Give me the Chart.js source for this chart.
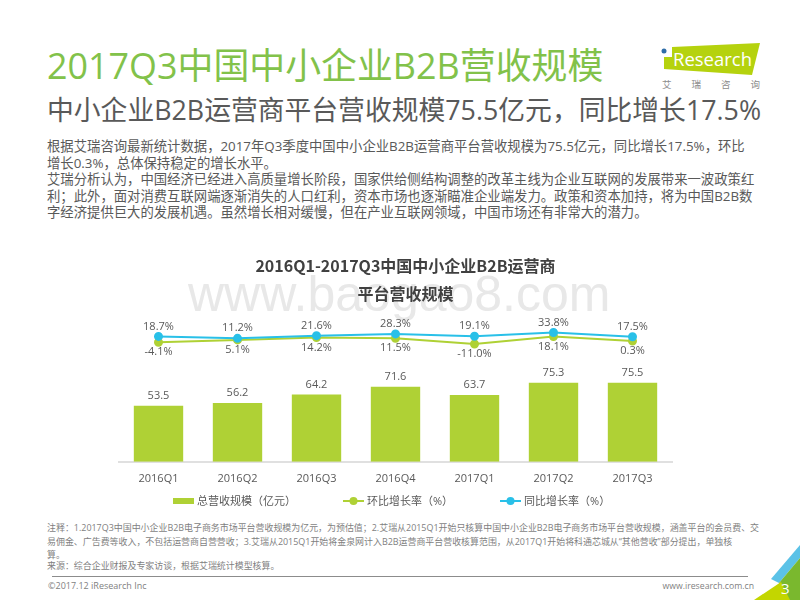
<!DOCTYPE html>
<html>
<head>
<meta charset="utf-8">
<title>2017Q3中国中小企业B2B营收规模</title>
<script src="https://cdn.jsdelivr.net/npm/chart.js@4"></script>
<style>
html, body { margin: 0; padding: 0; background: #fff; }
body { width: 800px; height: 600px; position: relative; overflow: hidden; font-family: "Open Sans", "Noto Sans CJK SC", sans-serif; color: #595959; }
.t { position: absolute; white-space: nowrap; line-height: 1; }
#mainTitle { left: 47px; top: 48px; font-size: 35.9px; color: #82c24a; }
#subTitle { left: 47px; top: 97px; font-size: 26.8px; color: #595959; }
.body { left: 47px; font-size: 13.35px; color: #595959; }
.note { left: 47px; font-size: 8.95px; color: #7f7f7f; }
#rule { position: absolute; left: 52px; top: 576px; width: 696px; height: 1px; background: #8c8c8c; }
#wrap { position: absolute; left: 70px; top: 250px; width: 640px; height: 245px; }
#deco { position: absolute; left: 0; top: 0; }
#legend { position: absolute; left: 173px; top: 493px; display: flex; font-size: 11px; line-height: 16px; color: #595959; white-space: nowrap; }
#legend span.item { display: flex; align-items: center; margin-right: 47px; }
#legend canvas { margin-right: 3px; }
</style>
</head>
<body>
<svg id="deco" width="800" height="600">
	<text x="188" y="311" font-size="50" fill="#e8e8e8" font-family="Liberation Sans">www.baogao8.com</text>
	<!-- logo -->
	<polygon points="672,47 760,43 752,75 664,69 664,57 672,57" fill="#b5d20e"/>
	<circle cx="664" cy="51" r="2.5" fill="#2f6da8"/>
	<text x="673" y="66" font-size="18" fill="#fff" font-family="Open Sans" textLength="79" lengthAdjust="spacingAndGlyphs">Research</text>
	<text x="662" y="88" font-size="9.5" fill="#8c8c8c" letter-spacing="20" font-family="Noto Sans CJK SC">艾瑞咨询</text>
	<!-- corner -->
	<polygon points="771,579 800,545 800,558 779,583" fill="#5bc2e7"/>
	<polygon points="779,583 800,558 800,600 783,600" fill="#7ab82e"/>
	<polygon points="754,600 781,582 790,600" fill="#c3d600"/>
	<text x="781" y="594" font-size="15" fill="#fff" font-family="Open Sans">3</text>
</svg>
<div class="t" id="mainTitle">2017Q3中国中小企业B2B营收规模</div>
<div class="t" id="subTitle">中小企业B2B运营商平台营收规模75.5亿元，同比增长17.5%</div>
<div class="t body" style="top:140px">根据艾瑞咨询最新统计数据，2017年Q3季度中国中小企业B2B运营商平台营收规模为75.5亿元，同比增长17.5%，环比</div>
<div class="t body" style="top:157px">增长0.3%，总体保持稳定的增长水平。</div>
<div class="t body" style="top:173px">艾瑞分析认为，中国经济已经进入高质量增长阶段，国家供给侧结构调整的改革主线为企业互联网的发展带来一波政策红</div>
<div class="t body" style="top:190px">利；此外，面对消费互联网端逐渐消失的人口红利，资本市场也逐渐瞄准企业端发力。政策和资本加持，将为中国B2B数</div>
<div class="t body" style="top:206px">字经济提供巨大的发展机遇。虽然增长相对缓慢，但在产业互联网领域，中国市场还有非常大的潜力。</div>

<div id="wrap"><canvas id="chart" width="640" height="245"></canvas></div>
<div id="legend"></div>

<div class="t note" style="top:524px">注释：1.2017Q3中国中小企业B2B电子商务市场平台营收规模为亿元，为预估值；2.艾瑞从2015Q1开始只核算中国中小企业B2B电子商务市场平台营收规模，涵盖平台的会员费、交</div>
<div class="t note" style="top:538px">易佣金、广告费等收入，不包括运营商自营营收；3.艾瑞从2015Q1开始将金泉网计入B2B运营商平台营收核算范围，从2017Q1开始将科通芯城从“其他营收”部分提出，单独核</div>
<div class="t note" style="top:551px">算。</div>
<div class="t note" style="top:562px">来源：综合企业财报及专家访谈，根据艾瑞统计模型核算。</div>
<div id="rule"></div>
<div class="t" style="left:48px;top:581px;font-size:9px;color:#7f7f7f">©2017.12 iResearch Inc</div>
<div class="t" style="right:46px;top:582px;font-size:8.7px;color:#7f7f7f">www.iresearch.com.cn</div>

<script>
// Chart data
const quarters = ['2016Q1', '2016Q2', '2016Q3', '2016Q4', '2017Q1', '2017Q2', '2017Q3'];
const revenue = [53.5, 56.2, 64.2, 71.6, 63.7, 75.3, 75.5];
const qoqRate = [-4.1, 5.1, 14.2, 11.5, -11.0, 18.1, 0.3];
const yoyRate = [18.7, 11.2, 21.6, 28.3, 19.1, 33.8, 17.5];

const GREEN = '#afd135';
const BLUE = '#29c0e8';
const TEXT = '#595959';
const FONT = '"Open Sans", "Noto Sans CJK SC"';

// Value labels above or below each mark
const valueLabels = {
	id: 'valueLabels',
	afterDatasetsDraw(chart) {
		const ctx = chart.ctx;
		ctx.save();
		ctx.font = '11px ' + FONT;
		ctx.fillStyle = TEXT;
		ctx.textAlign = 'center';
		ctx.textBaseline = 'middle';
		chart.data.datasets.forEach((ds, i) => {
			chart.getDatasetMeta(i).data.forEach((el, j) => {
				const v = ds.data[j];
				const text = ds.type === 'bar' ? v.toFixed(1) : v.toFixed(1) + '%';
				ctx.fillText(text, el.x, el.y + ds.labelGap);
			});
		});
		ctx.restore();
	}
};

// Title sits a bit right of the plot centre in the original
const titleShift = {
	id: 'titleShift',
	afterLayout(chart) {
		chart.titleBlock.left += 10;
		chart.titleBlock.right += 10;
	}
};

const chart = new Chart(document.getElementById('chart'), {
	data: {
		labels: quarters,
		datasets: [
			{
				type: 'line',
				label: '同比增长率（%）',
				data: yoyRate,
				yAxisID: 'yRate',
				borderColor: BLUE,
				backgroundColor: BLUE,
				borderWidth: 2,
				pointRadius: 3.5,
				tension: 0,
				order: 1,
				labelGap: -10
			},
			{
				type: 'line',
				label: '环比增长率（%）',
				data: qoqRate,
				yAxisID: 'yRate',
				borderColor: GREEN,
				backgroundColor: GREEN,
				borderWidth: 2,
				pointRadius: 3.5,
				tension: 0,
				order: 2,
				labelGap: 10
			},
			{
				type: 'bar',
				label: '总营收规模（亿元）',
				data: revenue,
				yAxisID: 'yRevenue',
				backgroundColor: GREEN,
				barPercentage: 0.625,
				categoryPercentage: 1,
				order: 3,
				labelGap: -10
			}
		]
	},
	options: {
		responsive: false,
		animation: false,
		devicePixelRatio: 1,
		layout: { padding: { left: 49, right: 38, top: 2, bottom: 0 } },
		plugins: {
			title: {
				display: true,
				text: ['2016Q1-2017Q3中国中小企业B2B运营商', '平台营收规模'],
				color: '#404040',
				font: { size: 16, weight: 'bold', family: '"Noto Sans CJK SC"', lineHeight: 1.75 },
				padding: { top: 0, bottom: 15 }
			},
			legend: { display: false },
			tooltip: { enabled: false }
		},
		scales: {
			x: {
				grid: { display: false, drawTicks: false },
				border: { color: '#e0e0e0', width: 2 },
				ticks: { color: TEXT, font: { size: 11, family: FONT }, padding: 10, maxRotation: 0 }
			},
			yRevenue: { display: false, min: 0, max: 132.4 },
			yRate: { display: false, min: -471, max: 71 }
		}
	},
	plugins: [valueLabels, titleShift]
});

// Legend built from the datasets: bar swatch, or line with dot
const legendBox = document.getElementById('legend');
[2, 1, 0].forEach(i => {
	const ds = chart.data.datasets[i];
	const item = document.createElement('span');
	item.className = 'item';
	const c = document.createElement('canvas');
	c.width = 21;
	c.height = 10;
	const ctx = c.getContext('2d');
	ctx.fillStyle = ds.backgroundColor;
	ctx.strokeStyle = ds.backgroundColor;
	if (ds.type === 'bar') {
		ctx.fillRect(0, 2, 21, 6);
	} else {
		ctx.lineWidth = 2;
		ctx.beginPath();
		ctx.moveTo(0, 5);
		ctx.lineTo(21, 5);
		ctx.stroke();
		ctx.beginPath();
		ctx.arc(10.5, 5, 4, 0, Math.PI * 2);
		ctx.fill();
	}
	item.appendChild(c);
	item.appendChild(document.createTextNode(ds.label));
	legendBox.appendChild(item);
});
</script>
</body>
</html>
